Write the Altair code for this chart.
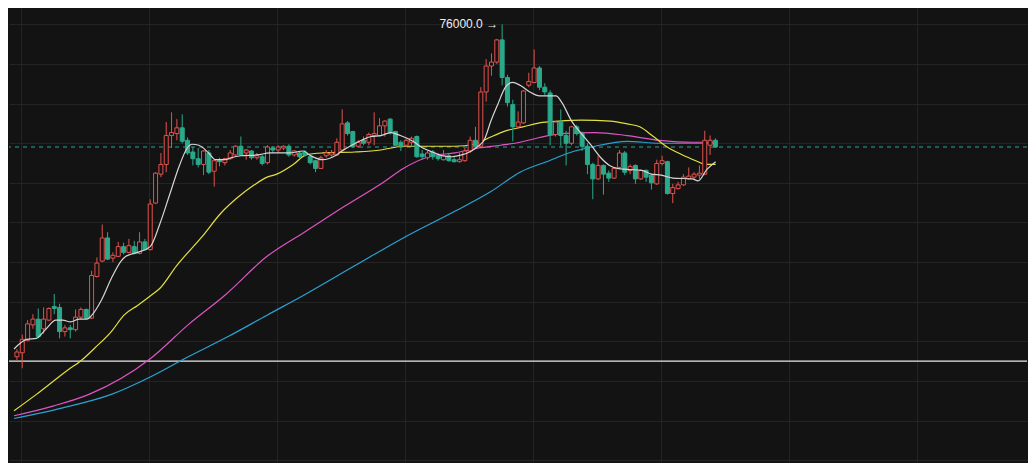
import altair as alt
import pandas as pd

# ---- candle data (index, open, high, low, close) ----
opens = [59220,59420,60050,60830,61120,60630,61070,61760,61710,60490,60680,60590,61220,61610,61170,63270,64050,65220,64200,64290,
         64780,64490,64780,64440,65020,64630,66980,68440,68930,70390,70490,70780,70150,69560,69220,68930,69510,68590,69170,69020,
         69220,69410,69850,69510,69610,69270,69320,69020,69760,69660,69760,69850,69410,69510,69560,69320,69120,68730,69370,69410,
         69410,69660,71030,70590,69850,70150,70050,70390,70390,70880,71220,70590,70050,69900,70050,70340,69460,69270,69560,69370,
         69170,69370,69170,69070,69120,69610,70150,69850,72590,73900,74100,75220,73320,71950,70830,71030,72930,73070,73800,72830,
         72540,70440,71070,70390,70000,70830,70490,69850,68930,68200,68880,68490,68240,68780,69510,68630,68880,68200,68630,68390,
         67950,68980,69070,67460,67710,67900,68200,68290,68390,68440,69900,70150]
highs = [59610,60340,61070,61370,61660,61710,61710,62390,61900,60830,60830,61610,61710,61650,63560,64240,65900,65510,64490,65020,
         64980,65170,65070,65510,65170,67170,68540,69510,71070,71560,71220,71460,70290,69810,69760,69660,69660,69170,69270,69270,
         69660,69900,70340,69710,69660,69510,69410,69900,69850,69900,69900,69950,69660,69610,69660,69410,69170,69370,69660,69660,
         70250,71710,71120,70630,70150,70340,70540,71560,71270,71170,71270,70630,70150,70250,70340,70390,69660,69610,69660,69510,
         69660,69510,69370,69510,69760,70340,70830,72830,74250,74540,75270,76000,73460,72200,71610,72680,73560,74730,73900,73030,
         72680,71120,71710,70630,70880,70930,70590,70000,69020,69370,68930,68630,68780,69660,69610,68930,68930,68680,68680,68440,
         69170,69370,69120,67950,68050,68440,68780,68540,68880,70630,70390,70250]
lows = [59030,58640,60000,60630,60150,60390,61020,61370,60150,60240,60150,60490,61120,61120,61120,63220,64000,64100,64000,64250,
        64390,64440,64390,64390,64590,64590,66930,68290,68540,69760,70150,70000,69410,68880,68780,68390,68440,67810,68830,68880,
        69170,69370,69370,69170,69170,69170,68880,68930,69510,69510,69660,69320,69320,69220,69320,68930,68540,68700,69270,69320,
        69370,69610,70390,69760,69760,69900,69900,69900,70340,70340,70440,69850,69610,69810,69850,69270,69170,69170,69170,69120,
        69120,69070,69020,69020,69070,69510,69760,69810,72100,73410,74000,72930,71850,70100,70730,70980,72830,73030,72680,72440,
        69900,70340,69850,68880,69900,70390,69610,68440,67170,68150,67410,68050,68200,68730,68390,68440,67950,68150,68050,67660,
        67900,68880,67410,66980,67660,67850,68150,68200,68200,68390,69410,69760]
closes = [59460,60100,60880,61120,60240,61120,61660,61660,60490,60680,60590,61220,61610,61170,63320,63950,65220,64150,64340,64780,
          64490,64830,64440,65020,64630,66930,68490,68930,70390,70540,70780,70100,69510,69220,68930,69610,68540,69120,69070,69220,
          69510,69850,69410,69660,69270,69370,68980,69810,69660,69810,69850,69410,69610,69320,69410,69020,68730,69270,69510,69510,
          70050,70980,70490,69850,70050,70000,70440,70490,70880,71120,70540,69900,69850,70150,70250,69320,69320,69510,69320,69220,
          69370,69120,69070,69170,69610,70150,69850,72590,73900,74100,75220,73320,72050,70830,71070,72640,73120,73800,72830,72590,
          70440,71070,70390,70000,70830,70490,69850,68930,68200,68880,68440,68240,68730,69510,68540,68830,68200,68630,68290,68000,
          68980,69120,67460,67760,67900,68290,68340,68440,68490,70150,70150,69810]

# ---- moving averages (candle index, price) ----
ma_white_i = [-0.55,1.83,3.65,5.48,7.30,8.58,10.04,11.68,13.14,14.05,15.88,17.70,19.53,20.44,22.63,25.00,26.83,28.65,30.48,31.94,
              32.85,34.13,35.96,37.23,39.06,40.15,41.98,45.08,47.45,51.10,53.66,55.12,57.31,59.68,60.96,62.79,64.61,66.44,68.26,70.09,
              71.91,74.28,76.11,77.93,79.76,81.59,83.41,85.24,86.51,87.61,88.89,90.16,91.62,92.90,94.36,96.19,98.01,99.29,101.11,102.21,
              104.03,105.86,107.68,109.51,111.15,112.61,114.43,117.17,118.99,120.82,123.01,126.66,127.76,129.40,131.04]
ma_white_p = [59610,60100,60150,60630,61070,61070,60980,61120,61120,61320,62100,63170,64050,64290,64490,64780,65950,67410,68880,69760,
              69950,69900,69510,69170,69170,69270,69370,69410,69510,69510,69610,69370,69170,69370,69610,69900,70150,70340,70390,70540,
              70390,70100,69760,69560,69370,69320,69410,69610,69850,70150,71120,71950,72830,73070,72930,72590,72390,72390,72390,72050,
              71120,70490,69900,69270,68880,68730,68680,68630,68440,68390,68240,68200,68100,68680,69070]
ma_yellow_i = [-0.55,3.65,9.49,12.23,14.60,17.70,20.08,22.63,25.00,26.83,29.93,34.68,38.33,41.43,44.53,46.91,48.73,51.83,54.21,57.31,
               63.33,68.26,72.46,76.11,82.13,85.78,88.34,91.26,94.91,98.01,101.66,105.86,111.33,114.43,116.81,119.36,121.74,124.84,127.76,129.04,131.04]
ma_yellow_p = [56490,57320,58540,59070,59660,60490,61320,61810,62290,62680,63810,65270,66490,67270,67900,68290,68440,68930,69410,69510,
               69560,69660,69850,69850,69850,69950,70250,70590,70830,71030,71120,71170,71120,70980,70830,70340,69850,69410,69070,68930,68930]
ma_pink_i = [-0.55,6.75,13.51,25.00,32.31,39.06,46.91,54.21,61.51,68.81,72.46,77.93,82.13,86.51,90.71,94.36,98.01,102.21,108.41,114.43,120.46,126.66,131.04]
ma_pink_p = [56240,56730,57320,59120,60880,62340,64290,65560,66830,68050,68730,69370,69510,69760,69900,70050,70290,70490,70540,70390,70150,70050,70050]
ma_blue_i = [-0.55,8.58,17.70,25.00,31.76,39.61,46.91,54.21,63.33,72.46,81.59,88.89,94.36,99.84,103.49,108.41,114.43,120.46,126.66,131.04]
ma_blue_p = [56100,56640,57320,58200,59170,60240,61320,62390,63810,65220,66490,67560,68540,69120,69510,69850,70100,70000,70000,70000]

# ---- reference levels / grid ----
last_price = 69810
level_line = 59000
high_label = "76000.0 →"
high_index = 91
high_price = 76000
grid_prices = [54000,56000,58000,60000,62000,64000,66000,68000,70000,72000,74000,76000]
grid_index = [0.75,24.75,48.75,72.75,96.75,120.75,144.75,168.75]

BG = "#131313"
UP = "#e2524d"
DOWN = "#2aa98b"

n = len(opens)
candles = pd.DataFrame({
    "i": list(range(n)), "open": opens, "high": highs, "low": lows, "close": closes,
})
candles["dir"] = ["up" if c >= o else "down" for o, c in zip(opens, closes)]

xs = alt.Scale(domain=[-0.55, 188.5], nice=False, zero=False)
ys = alt.Scale(domain=[53855, 76830], nice=False, zero=False)
xax = alt.Axis(values=grid_index, labels=False, ticks=False, domain=False, grid=True, title=None)
yax = alt.Axis(values=grid_prices, labels=False, ticks=False, domain=False, grid=True, title=None)

def X(f):
    return alt.X(f, type="quantitative", scale=xs, axis=xax)

def Y(f):
    return alt.Y(f, type="quantitative", scale=ys, axis=yax)

wicks = alt.Chart(candles).mark_rule(strokeWidth=1).encode(
    x=X("i"), y=Y("low"), y2="high",
    color=alt.Color("dir:N", scale=alt.Scale(domain=["up", "down"], range=[UP, DOWN]), legend=None),
)
bodies = alt.Chart(candles).mark_bar(size=4, strokeWidth=1).encode(
    x=X("i"), y=Y("open"), y2="close",
    fill=alt.Fill("dir:N", scale=alt.Scale(domain=["up", "down"], range=[BG, DOWN]), legend=None),
    stroke=alt.Stroke("dir:N", scale=alt.Scale(domain=["up", "down"], range=[UP, DOWN]), legend=None),
)

def ma(ii, pp, color):
    df = pd.DataFrame({"i": ii, "p": pp})
    return alt.Chart(df).mark_line(color=color, strokeWidth=1.2, interpolate="monotone").encode(
        x=X("i"), y=Y("p"))

ma_blue = ma(ma_blue_i, ma_blue_p, "#2aa3d4")
ma_pink = ma(ma_pink_i, ma_pink_p, "#de55c3")
ma_yellow = ma(ma_yellow_i, ma_yellow_p, "#e3e040")
ma_white = ma(ma_white_i, ma_white_p, "#d6d6d6")

last_rule = alt.Chart(pd.DataFrame({"p": [last_price]})).mark_rule(
    color="#26a69a", strokeDash=[4, 4], strokeWidth=1).encode(y=Y("p"))
level_rule = alt.Chart(pd.DataFrame({"p": [level_line]})).mark_rule(
    color="#e8e8e8", strokeWidth=1.2).encode(y=Y("p"))

label = alt.Chart(pd.DataFrame({"i": [high_index], "p": [high_price], "t": [high_label]})).mark_text(
    align="right", baseline="middle", dx=-4, fontSize=12, color="#eeeeee", font="Liberation Sans").encode(
    x=X("i"), y=Y("p"), text="t:N")

chart = alt.layer(
    level_rule, last_rule, ma_blue, ma_pink, ma_yellow, wicks, bodies, ma_white, label
).properties(
    width=1020, height=455,
    autosize=alt.AutoSizeParams(type="fit", contains="padding"),
    padding=0, background=BG,
).configure_view(strokeWidth=0).configure_axis(gridColor="#242424", gridWidth=1)

chart.save("out.html", embed_options={"renderer": "svg", "actions": False})
